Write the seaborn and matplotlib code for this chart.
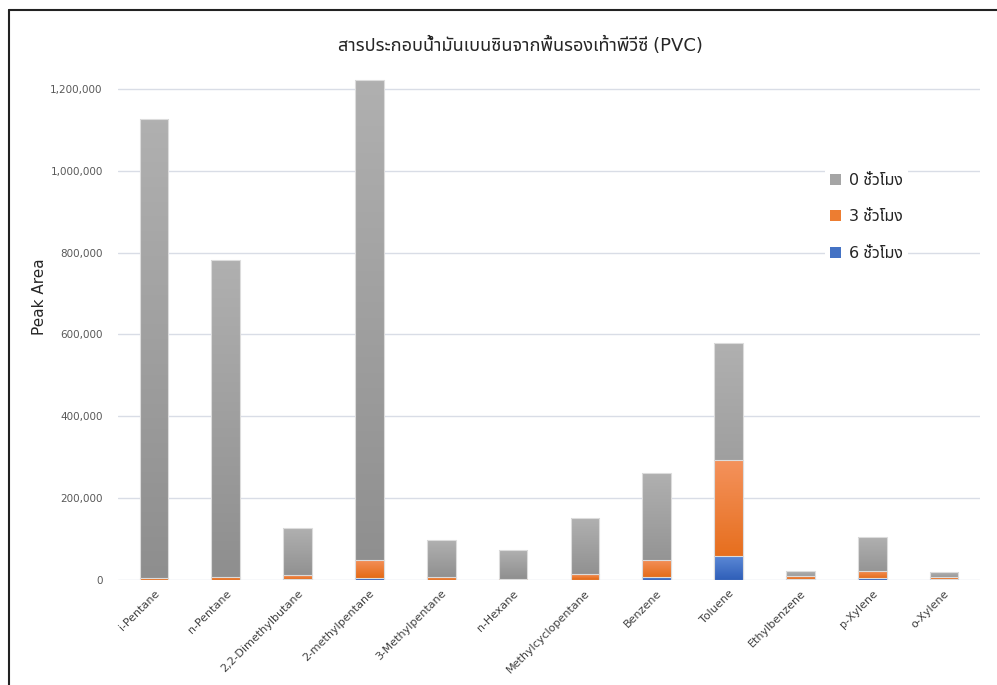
import numpy as np
import pandas as pd
import matplotlib
matplotlib.use('Agg')
import matplotlib.pyplot as plt
import seaborn as sns
from matplotlib.colors import LinearSegmentedColormap
from matplotlib.patches import Patch
from matplotlib.lines import Line2D

compounds = ['i-Pentane', 'n-Pentane', '2,2-Dimethylbutane', '2-methylpentane',
             '3-Methylpentane', 'n-Hexane', 'Methylcyclopentane', 'Benzene',
             'Toluene', 'Ethylbenzene', 'p-Xylene', 'o-Xylene']
hour0 = [1126000, 783000, 127000, 1222000, 97500, 73000, 151000, 261000,
         578000, 21000, 105000, 19000]
hour3 = [5500, 8000, 12000, 50000, 6500, 3000, 14600, 49000,
         293000, 10000, 22000, 8000]
hour6 = [1000, 1000, 3000, 5500, 1000, 500, 1000, 6500,
         58500, 3000, 5000, 2500]
series_labels = ['0 ชั่วโมง', '3 ชั่วโมง', '6 ชั่วโมง']
title = 'สารประกอบน้ำมันเบนซินจากพื้นรองเท้าพีวีซี (PVC)'

sns.set_theme(style='white')
plt.rcParams['font.family'] = ['Noto Sans Thai UI', 'DejaVu Sans']

fig = plt.figure(figsize=(9.97, 6.85), dpi=100)
ax = fig.add_axes([118/997, 105/685, 862/997, 503.3/685])

df = pd.DataFrame({'compound': compounds, 'h0': hour0, 'h3': hour3, 'h6': hour6})
# (flat colour, top of gradient, bottom of gradient)
styles = [('#a5a5a5', '#b0b0b0', '#8e8e8e'),
          ('#ed7d31', '#f4925c', '#e3660f'),
          ('#4472c4', '#5b88d6', '#2f5fb8')]
for k, (col, st) in enumerate(zip(['h0', 'h3', 'h6'], styles)):
    n_before = len(ax.patches)
    sns.barplot(data=df, x='compound', y=col, order=compounds, color=st[0],
                width=0.4, saturation=1, edgecolor='#dcdcdc', linewidth=0.8, ax=ax)
    cmap = LinearSegmentedColormap.from_list('g%d' % k, [st[2], st[1]])
    # excel-like vertical gradient, clipped to each bar
    for p in ax.patches[n_before:]:
        p.set_zorder(2 + k)
        p.set_facecolor('none')
        x0, w, h = p.get_x(), p.get_width(), p.get_height()
        im = ax.imshow(np.linspace(0, 1, 128).reshape(-1, 1), cmap=cmap, origin='lower',
                       extent=[x0, x0 + w, 0, h], aspect='auto', zorder=2 + k - 0.5)
        im.set_clip_path(p)

ax.set_ylim(0, 1230000)
ax.set_xlim(-0.5, len(compounds) - 0.5)
ax.set_yticks(np.arange(0, 1200001, 200000))
ax.set_yticklabels(['{:,}'.format(v) for v in range(0, 1200001, 200000)],
                   fontsize=7.5, color='#595959', family='DejaVu Sans')
ax.set_xticks(range(len(compounds)))
ax.set_xticklabels(compounds, rotation=45, ha='right', rotation_mode='anchor',
                   fontsize=8, color='#404040')
ax.yaxis.grid(True, color='#d9dde6', lw=1)
ax.set_axisbelow(True)
for s in ax.spines.values():
    s.set_visible(False)
ax.tick_params(axis='y', length=0, pad=11)
ax.tick_params(axis='x', length=0, pad=6)
ax.set_xlabel('')
ax.set_ylabel('Peak Area', fontsize=11, family='DejaVu Sans')
ax.yaxis.set_label_coords(-71/862, 0.562)

handles = [Patch(facecolor=st[0], edgecolor='none') for st in styles]
leg = ax.legend(handles, series_labels, loc='upper left', bbox_to_anchor=(817/997, 525/685),
                bbox_transform=fig.transFigure, frameon=True, facecolor='white', edgecolor='none',
                framealpha=1, fontsize=11.5, handlelength=0.7, handleheight=0.7,
                labelspacing=1.35, borderpad=0.3, handletextpad=0.5)
leg.set_zorder(10)

fig.text(520/997, 1 - 46/685, title, ha='center', va='center', fontsize=13, color='#262626')

# frame around the chart
fig.add_artist(Line2D([9/997, 9/997], [0, 1 - 10/685], color='#222222', lw=1.5))
fig.add_artist(Line2D([9/997, 1], [1 - 10/685, 1 - 10/685], color='#222222', lw=1.5))

fig.savefig('out.png', dpi=100)
